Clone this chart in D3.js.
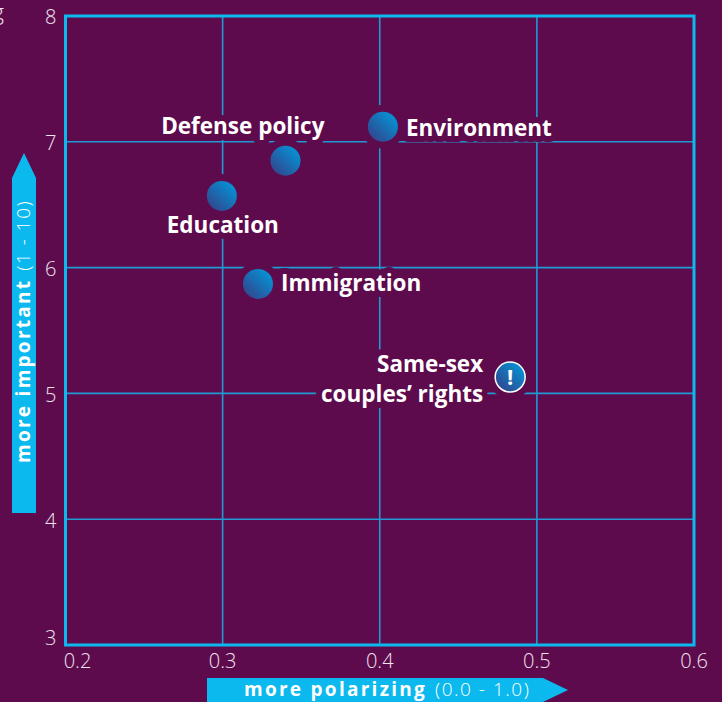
<!DOCTYPE html>
<html>
<head>
<meta charset="utf-8">
<script src="https://cdn.jsdelivr.net/npm/d3@7"></script>
<style>
html, body { margin: 0; padding: 0; background: #5e0b4d; overflow: hidden; }
text { font-family: "Open Sans", "Noto Sans", sans-serif; }
</style>
</head>
<body>
<div id="my_dataviz"></div>
<script>
var topics = ["Environment", "Defense policy", "Education", "Immigration", "Same-sex couples\u2019 rights"];
var polarizing = [0.402, 0.34, 0.2995, 0.3225, 0.483];
var importance = [7.12, 6.85, 6.57, 5.87, 5.13];
var flagged = [false, false, false, false, true];
var xTicks = [0.2, 0.3, 0.4, 0.5, 0.6];
var yTicks = [3, 4, 5, 6, 7, 8];

var bg = "#5e0b4d", cyan = "#0cb9ee", grid = "#1f9ad2";

var margin = {top: 16, right: 28, bottom: 57, left: 65.5},
width = 722 - margin.left - margin.right,
height = 702 - margin.top - margin.bottom;

var svg = d3.select("#my_dataviz")
.append("svg")
.attr("width", 722)
.attr("height", 702)
.style("display", "block");

var defs = svg.append("defs");
var grad = defs.append("linearGradient")
.attr("id", "ball")
.attr("x1", "0.15").attr("y1", "0.85")
.attr("x2", "0.85").attr("y2", "0.15");
grad.append("stop").attr("offset", "0").attr("stop-color", "#2f4a92");
grad.append("stop").attr("offset", "1").attr("stop-color", "#0690d2");

var g = svg.append("g")
.attr("transform", "translate(" + margin.left + "," + margin.top + ")");

var x = d3.scaleLinear().domain([0.2, 0.6]).range([0, width]);
var y = d3.scaleLinear().domain([3, 8]).range([height, 0]);

var xAxis = g.append("g")
.attr("transform", "translate(0," + height + ")")
.call(d3.axisBottom(x).tickValues(xTicks).tickSize(-height).tickPadding(9).offset(0).tickFormat(d3.format(".1f")));
var yAxis = g.append("g")
.call(d3.axisLeft(y).tickValues(yTicks).tickSize(-width).tickPadding(9).offset(0).tickFormat(d3.format("d")));

[xAxis, yAxis].forEach(function(a) {
  a.select(".domain").remove();
  a.selectAll("line").attr("stroke", grid).attr("stroke-width", 1.6);
  a.selectAll("text")
  .attr("fill", "#f0e4ee")
  .style("font-size", "20px")
  .style("font-weight", 300);
});

// corner labels get nudged apart so 3 and 0.2 don't collide
xAxis.selectAll("text").filter(function(d) { return d === 0.2; }).attr("dx", 12);
yAxis.selectAll("text").attr("dy", "0.37em").attr("y", 1);
yAxis.selectAll("text").filter(function(d) { return d === 3; }).attr("y", -7);

// balls knock a hole in the grid
g.selectAll(".halo")
.data(topics)
.enter()
.append("circle")
.attr("class", "halo")
.attr("cx", function(d, i) { return x(polarizing[i]); })
.attr("cy", function(d, i) { return y(importance[i]); })
.attr("r", 22)
.attr("fill", bg);

// where each label goes relative to its ball
var labelDx = [23, 39, 1, 23, -27];
var labelDy = [9, -27, 37, 7, -5];
var labelAnchor = ["start", "end", "middle", "start", "end"];

var labels = g.selectAll(".label")
.data(topics)
.enter()
.append("text")
.attr("class", "label")
.attr("x", function(d, i) { return x(polarizing[i]) + labelDx[i]; })
.attr("y", function(d, i) { return y(importance[i]) + labelDy[i]; })
.attr("text-anchor", function(d, i) { return labelAnchor[i]; })
.attr("fill", "#fff")
.attr("stroke", bg)
.attr("stroke-width", 12)
.attr("stroke-linejoin", "round")
.style("paint-order", "stroke")
.style("font-size", "22.5px")
.style("font-weight", 700);

labels.each(function(d, i) {
  var t = d3.select(this);
  if (flagged[i]) {
    t.append("tspan").attr("x", t.attr("x")).text("Same-sex");
    t.append("tspan").attr("x", t.attr("x")).attr("dy", 30).text("couples\u2019 rights");
  } else {
    t.text(d);
  }
});

// frame sits above the grid
g.append("rect")
.attr("x", 0).attr("y", 0)
.attr("width", width).attr("height", height)
.attr("fill", "none")
.attr("stroke", cyan)
.attr("stroke-width", 3);

g.selectAll(".ball")
.data(topics)
.enter()
.append("circle")
.attr("class", "ball")
.attr("cx", function(d, i) { return x(polarizing[i]); })
.attr("cy", function(d, i) { return y(importance[i]); })
.attr("r", 15)
.attr("fill", "url(#ball)")
.attr("stroke", function(d, i) { return flagged[i] ? "#fff" : "none"; })
.attr("stroke-width", 1.5);

g.selectAll(".flag")
.data(topics.filter(function(d, i) { return flagged[i]; }))
.enter()
.append("text")
.attr("class", "flag")
.attr("x", function(d) { return x(polarizing[topics.indexOf(d)]); })
.attr("y", function(d) { return y(importance[topics.indexOf(d)]) + 8; })
.attr("text-anchor", "middle")
.attr("fill", "#fff")
.style("font-size", "22px")
.style("font-weight", 700)
.text("!");

// axis arrows
svg.append("path")
.attr("d", "M12,513V178L24,153L36,178V513Z")
.attr("fill", cyan);
svg.append("path")
.attr("d", "M207,678H543L568,690L543,702H207Z")
.attr("fill", cyan);

var yTitle = svg.append("text")
.attr("transform", "translate(30,463) rotate(-90)")
.attr("fill", "#fff")
.style("font-size", "19px");
yTitle.append("tspan").style("font-weight", 700).style("letter-spacing", "2.27px").text("more important");
yTitle.append("tspan").style("font-weight", 300).style("letter-spacing", "1.5px").attr("dx", 8).text("(1 - 10)");

var xTitle = svg.append("text")
.attr("x", 244).attr("y", 696)
.attr("fill", "#fff")
.style("font-size", "19px");
xTitle.append("tspan").style("font-weight", 700).style("letter-spacing", "2.27px").text("more polarizing");
xTitle.append("tspan").style("font-weight", 300).style("letter-spacing", "1.5px").attr("dx", 8).text("(0.0 - 1.0)");

// cut-off caption at the page's top edge
svg.append("text")
.attr("x", 4).attr("y", 20)
.attr("text-anchor", "end")
.attr("fill", "#f0e4ee")
.style("font-size", "22px")
.style("font-weight", 300)
.text("g");
</script>
</body>
</html>
